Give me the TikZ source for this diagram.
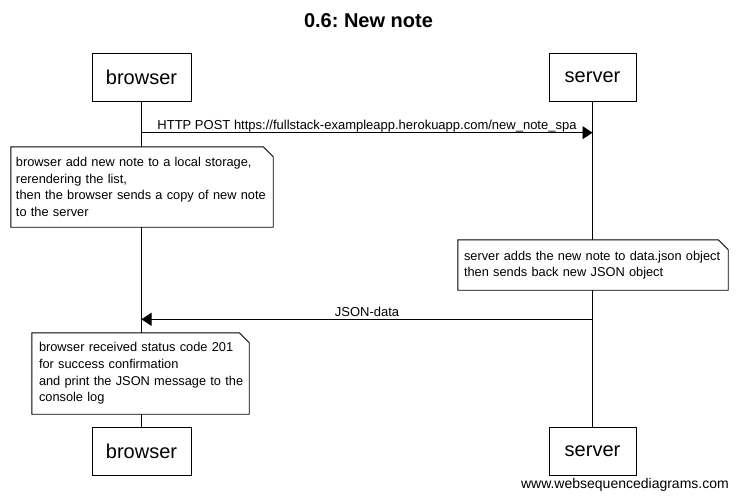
\documentclass[tikz,border=0pt]{standalone}
\usepackage{fontspec}
\setmainfont{Liberation Sans}
\frenchspacing
\usetikzlibrary{arrows.meta}
\tikzset{
  actor/.style={draw, line width=0.9pt, fill=white, inner sep=0pt, font=\fontsize{20}{24}\selectfont},
  life/.style={line width=0.9pt},
  msg/.style={line width=0.9pt, -{Triangle[length=10pt,width=13pt]}},
  msglabel/.style={font=\fontsize{13}{16}\selectfont, inner sep=0pt, anchor=base},
  notebox/.style={fill=white, inner sep=0pt, align=left, font=\fontsize{12.8}{16.6}\selectfont},
  noteline/.style={line width=0.9pt},
}
\begin{document}
\begin{tikzpicture}[x=1pt,y=-1pt]
\path[use as bounding box, fill=white] (0,0) rectangle (737,501);
\node[font=\bfseries\fontsize{20}{24}\selectfont, inner sep=0pt] (title) at (368.5,21) {0.6: New note};
% actors
\node[actor, minimum width=99pt, minimum height=48pt] (b1) at (141.5,77) {browser};
\node[actor, minimum width=87pt, minimum height=48pt] (s1) at (592.5,77) {server};
\node[actor, minimum width=99pt, minimum height=48pt] (b2) at (141.5,451) {browser};
\node[actor, minimum width=87pt, minimum height=48pt] (s2) at (592.5,451) {server};
% lifelines
\draw[life] (b1) -- (b2);
\draw[life] (s1) -- (s2);
% message 1
\coordinate (m1s) at (141.5,132.7);
\coordinate (m1e) at (592.5,132.7);
\draw[msg] (m1s) -- (m1e);
\node[msglabel] (l1) at (367,129) {HTTP POST https://fullstack-exampleapp.herokuapp.com/new\_note\_spa};
% note 1
\node[notebox, minimum width=262pt, minimum height=80pt, text width=252pt] (n1) at (142,187)
  {\mbox{browser add new note to a local storage,}\\\mbox{rerendering the list,}\\\mbox{then the browser sends a copy of new note}\\\mbox{to the server}};
% note 2
\node[notebox, minimum width=270pt, minimum height=50pt, text width=258pt] (n2) at (593,265)
  {\mbox{server adds the new note to data.json object}\\\mbox{then sends back new JSON object}};
% message 2
\coordinate (m2s) at (592.5,319.3);
\coordinate (m2e) at (141.5,319.3);
\draw[msg] (m2s) -- (m2e);
\node[msglabel] (l2) at (367,316) {JSON-data};
% note 3
\node[notebox, minimum width=217pt, minimum height=81pt, text width=203pt] (n3) at (140.5,373.5)
  {\mbox{browser received status code 201}\\\mbox{for success confirmation}\\\mbox{and print the JSON message to the}\\\mbox{console log}};
% note outlines
\foreach \n in {n1,n2,n3}{
  \draw[noteline] (\n.north west) -- ([xshift=-10pt]\n.north east) -- ([yshift=-10pt]\n.north east) -- (\n.south east) -- (\n.south west) -- cycle;
}
% footer
\node[font=\fontsize{14}{17}\selectfont, inner sep=0pt, anchor=east] (foot) at (729,485) {www.websequencediagrams.com};
\end{tikzpicture}
\end{document}
